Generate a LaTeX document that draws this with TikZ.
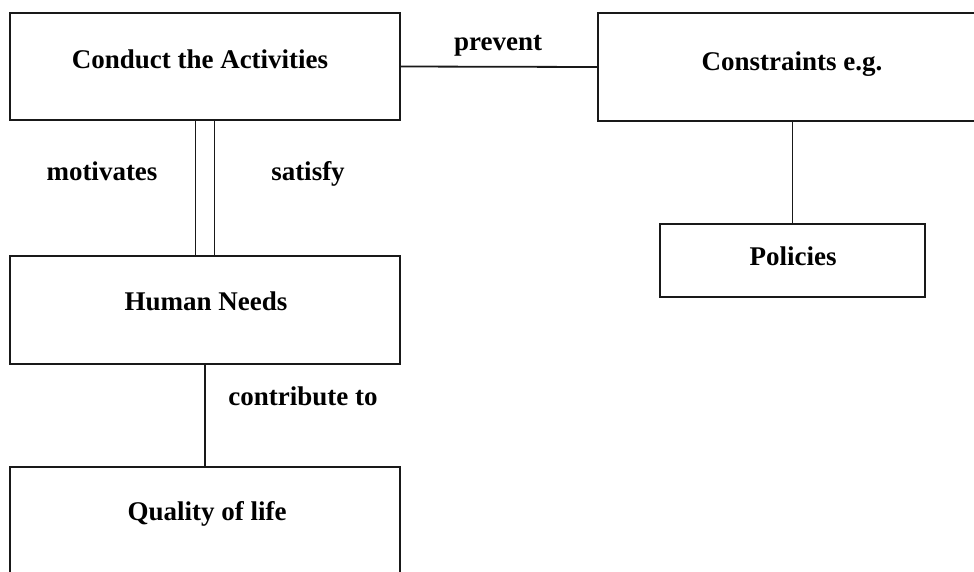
\documentclass[tikz,border=0pt]{standalone}
\usepackage{fontspec}
\setmainfont{Liberation Serif}
\begin{document}
\begin{tikzpicture}[x=1pt,y=-1pt,
  box/.style={draw=black!90, line width=1.8pt, rectangle, outer sep=0pt, inner sep=0pt},
  lbl/.style={font=\fontsize{27}{32}\selectfont\bfseries, inner sep=0pt, text=black, text height=0.68em, text depth=0.22em},
  conn/.style={draw=black!90, line width=1.8pt}]
\clip (0,0) rectangle (974,571);
\fill[white] (0,0) rectangle (974,571);
% boxes
\node[box, minimum width=390pt, minimum height=107pt] (A) at (205,66.5) {};
\node[box, minimum width=402pt, minimum height=108pt] (C) at (799,67) {};
\node[box, minimum width=265pt, minimum height=73pt] (P) at (792.5,260.5) {};
\node[box, minimum width=390pt, minimum height=108pt] (H) at (205,310) {};
\node[box, minimum width=390pt, minimum height=133pt] (Q) at (205,533.5) {};
% texts
\node[lbl] (tA) at (200,66) {Conduct the Activities};
\node[lbl] (tC) at (792,68) {Constraints e.g.};
\node[lbl] (tP) at (793,263) {Policies};
\node[lbl] (tH) at (206,308) {Human Needs};
\node[lbl] (tQ) at (207,518) {Quality of life};
% connectors
\draw[conn] (A.east) -- (C.west);
\draw[conn] ([xshift=-9.5pt]A.south) -- ([xshift=-9.5pt]H.north);
\draw[conn] ([xshift=9.5pt]A.south) -- ([xshift=9.5pt]H.north);
\draw[conn] (H.south) -- (Q.north);
\draw[conn] (P.north) -- (P.north |- C.south);
% connector labels
\node[lbl] (lprev) at (498,48) {prevent};
\node[lbl] (lmot) at (102,178) {motivates};
\node[lbl] (lsat) at (308,178) {satisfy};
\node[lbl] (lcon) at (303,403) {contribute to};
\end{tikzpicture}
\end{document}
